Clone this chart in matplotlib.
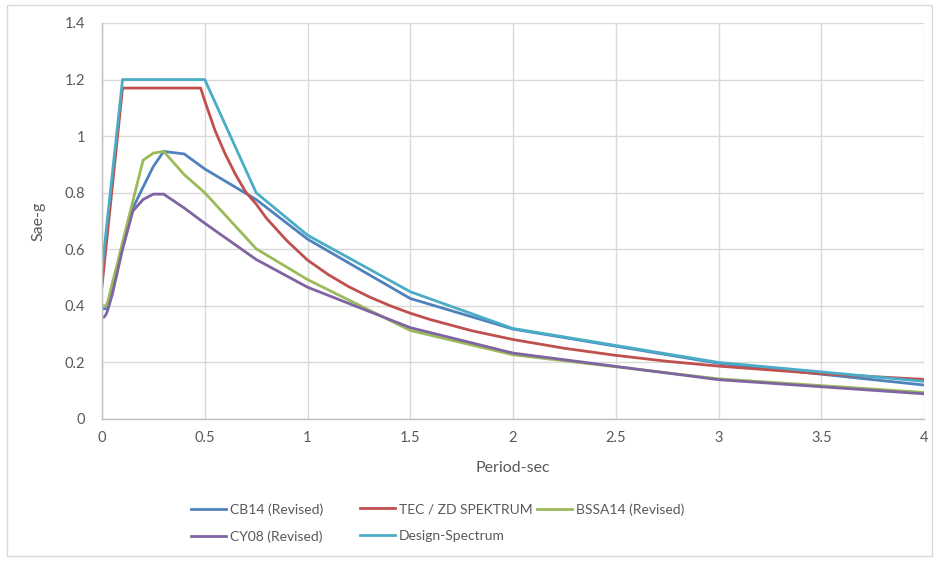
import matplotlib.pyplot as plt
from matplotlib.patches import Rectangle

plt.rcParams["font.family"] = ["Lato", "DejaVu Sans"]

# periods (sec) used by the attenuation relations
periods = [0, 0.01, 0.02, 0.03, 0.05, 0.075, 0.1, 0.15, 0.2, 0.25, 0.3,
           0.4, 0.5, 0.75, 1.0, 1.5, 2.0, 3.0, 4.0]

cb14 = [0.388, 0.39, 0.39, 0.40, 0.45, 0.53, 0.61, 0.745, 0.82, 0.893, 0.946,
        0.937, 0.884, 0.776, 0.636, 0.426, 0.318, 0.197, 0.12]
bssa14 = [0.40, 0.40, 0.40, 0.42, 0.48, 0.55, 0.625, 0.77, 0.915, 0.94, 0.946,
          0.864, 0.80, 0.602, 0.493, 0.313, 0.227, 0.142, 0.094]
cy08 = [0.36, 0.36, 0.37, 0.39, 0.44, 0.52, 0.60, 0.735, 0.776, 0.795, 0.795,
        0.746, 0.692, 0.564, 0.466, 0.323, 0.233, 0.139, 0.089]

# TEC 2007 / ZD elastic spectrum
tec_T = [0, 0.1, 0.2, 0.3, 0.4, 0.48, 0.5, 0.55, 0.6, 0.65, 0.7, 0.75, 0.8,
         0.9, 1.0, 1.1, 1.2, 1.3, 1.4, 1.5, 1.6, 1.8, 2.0, 2.25, 2.5, 2.75,
         3.0, 3.5, 4.0]
tec = [0.47, 1.17, 1.17, 1.17, 1.17, 1.17, 1.125, 1.02, 0.936, 0.864, 0.802,
       0.76, 0.71, 0.63, 0.562, 0.511, 0.468, 0.432, 0.401, 0.374, 0.351,
       0.312, 0.281, 0.25, 0.225, 0.204, 0.187, 0.16, 0.14]

design_T = [0, 0.1, 0.5, 0.75, 1.0, 1.5, 2.0, 3.0, 4.0]
design = [0.53, 1.2, 1.2, 0.80, 0.65, 0.45, 0.32, 0.20, 0.133]

W, H = 939, 561
fig = plt.figure(figsize=(W / 100, H / 100), dpi=100)
ax = fig.add_axes([102 / W, 1 - 419 / H, 822 / W, 396 / H])

l1, = ax.plot(periods, cb14, color="#4F81BD", lw=2.0, label="CB14 (Revised)")
l2, = ax.plot(tec_T, tec, color="#C0504D", lw=2.0, label="TEC / ZD SPEKTRUM")
l3, = ax.plot(periods, bssa14, color="#9BBB59", lw=2.0, label="BSSA14 (Revised)")
l4, = ax.plot(periods, cy08, color="#8064A2", lw=2.0, label="CY08 (Revised)")
l5, = ax.plot(design_T, design, color="#4BACC6", lw=2.0, label="Design-Spectrum")

ax.set_xlim(0, 4)
ax.set_ylim(0, 1.4)
ax.set_xticks([0, 0.5, 1, 1.5, 2, 2.5, 3, 3.5, 4])
ax.set_xticklabels(["0", "0.5", "1", "1.5", "2", "2.5", "3", "3.5", "4"])
ax.set_yticks([0, 0.2, 0.4, 0.6, 0.8, 1, 1.2, 1.4])
ax.set_yticklabels(["0", "0.2", "0.4", "0.6", "0.8", "1", "1.2", "1.4"])
ax.grid(True, color="#D9D9D9", lw=1.0)
ax.set_axisbelow(True)
for side in ["top", "right"]:
    ax.spines[side].set_visible(False)
for side in ["left", "bottom"]:
    ax.spines[side].set_color("#BFBFBF")
    ax.spines[side].set_linewidth(1.0)
ax.tick_params(length=0, colors="#595959", labelsize=10.5)
ax.tick_params(axis="y", pad=12)
ax.tick_params(axis="x", pad=9)

ax.set_xlabel("Period-sec", color="#595959", fontsize=11.5, labelpad=11)
ax.set_ylabel("Sae-g", color="#595959", fontsize=11.5, labelpad=14)

# legend: three columns, filled row by row
columns = [(191, [l1, l4]), (360, [l2, l5]), (537, [l3])]
for x0, lines in columns:
    leg = fig.legend(lines, [ln.get_label() for ln in lines],
                     loc="upper left", bbox_to_anchor=(x0 / W, 1 - 503 / H),
                     frameon=False, fontsize=10, handlelength=2.5,
                     handletextpad=0.3, labelspacing=1.05,
                     borderpad=0, borderaxespad=0)
    for t in leg.get_texts():
        t.set_color("#595959")

# chart area border
fig.patches.append(Rectangle((7 / W, 1 - 556 / H), 925 / W, 551 / H,
                             transform=fig.transFigure, fill=False,
                             edgecolor="#D9D9D9", lw=1.0))

fig.savefig("out.png", dpi=100)
